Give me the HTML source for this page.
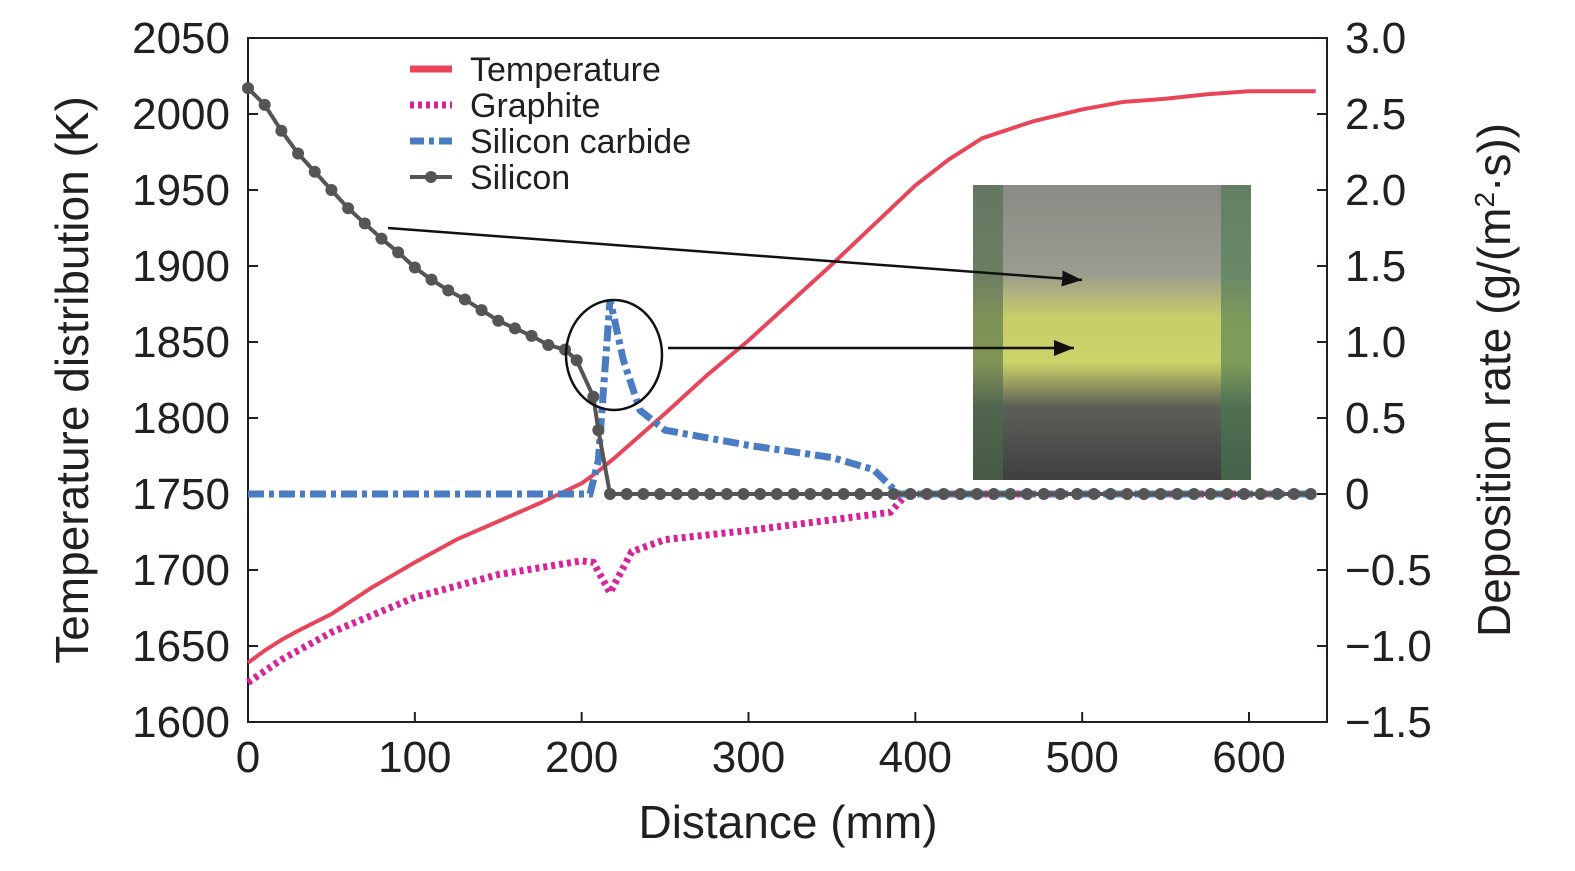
<!DOCTYPE html>
<html><head><meta charset="utf-8"><style>
body{margin:0;background:#fff;}
svg text{font-family:"Liberation Sans",sans-serif;fill:#231f20;}
</style></head><body>
<svg id="c" width="1575" height="866" xmlns="http://www.w3.org/2000/svg">
<defs>
<linearGradient id="pg" x1="0" y1="0" x2="0" y2="1">
<stop offset="0" stop-color="#8a8a86"/><stop offset="0.3" stop-color="#9a9c8e"/><stop offset="0.45" stop-color="#c9cc6a"/><stop offset="0.6" stop-color="#cdd36a"/><stop offset="0.75" stop-color="#5c6158"/><stop offset="1" stop-color="#3e4040"/>
</linearGradient>
<marker id="ah" viewBox="0 0 10 10" refX="10" refY="5" markerWidth="8" markerHeight="8" orient="auto"><path d="M0,1 L10,5 L0,9 z" fill="#111"/></marker>
</defs>
<g id="photo">
<rect x="973" y="185" width="278" height="295" fill="url(#pg)"/>
<rect x="973" y="185" width="30" height="295" fill="#4d6a4a" opacity="0.6"/>
<rect x="1221" y="185" width="30" height="295" fill="#4a7a50" opacity="0.6"/>
</g>
<g id="axes"></g>
<g id="series"></g>
<g id="legend"></g>
</svg>
<script>
const tempX=[0,10,20,30,50,75,100,125,150,175,200,210,220,250,275,300,325,350,375,400,420,440,470,500,525,550,575,600,640];
const tempY=[1639,1647,1654,1660,1671,1689,1705,1720,1732,1744,1757,1765,1774,1803,1828,1851,1876,1901,1927,1953,1970,1984,1995,2003,2008,2010,2013,2015,2015];
const graphX=[0,20,50,100,150,200,207,217,230,250,300,350,385,395,640];
const graphY=[-1.24,-1.09,-0.91,-0.68,-0.53,-0.44,-0.45,-0.65,-0.38,-0.30,-0.24,-0.17,-0.12,0,0];
const sicX=[0,205,210,217,225,235,250,300,350,375,390,640];
const sicY=[0,0,0.22,1.28,0.88,0.55,0.42,0.32,0.24,0.16,0,0];
const siX=[0,10,20,30,40,50,60,70,80,90,100,110,120,130,140,150,160,170,180,190,197,207,210,217];
const siY=[2.67,2.56,2.39,2.24,2.12,2.0,1.88,1.78,1.68,1.59,1.49,1.41,1.34,1.28,1.21,1.14,1.09,1.04,0.98,0.95,0.88,0.64,0.42,0];
const xTicks=[0,100,200,300,400,500,600];
const lTicks=[1600,1650,1700,1750,1800,1850,1900,1950,2000,2050];
const rTicks=[-1.5,-1.0,-0.5,0,0.5,1.0,1.5,2.0,2.5,3.0];
const rLabels=["\u22121.5","\u22121.0","\u22120.5","0","0.5","1.0","1.5","2.0","2.5","3.0"];

const L=248,R=1327,T=38,B=722;
const sx=v=>L+v*(1249-248)/600;
const sl=v=>B-(v-1600)*(B-T)/450;
const sr=v=>B-(v+1.5)*(B-T)/4.5;
const NS="http://www.w3.org/2000/svg";
function mk(tag,attrs,parent){const e=document.createElementNS(NS,tag);for(const k in attrs)e.setAttribute(k,attrs[k]);parent.appendChild(e);return e;}
const ax=document.getElementById('axes'),se=document.getElementById('series'),lg=document.getElementById('legend');

let fr=mk('rect',{x:L,y:T,width:R-L,height:B-T,fill:'none',stroke:'#231f20','stroke-width':2},ax);


xTicks.forEach(v=>{
 let t=mk('line',{x1:sx(v),x2:sx(v),y1:B,y2:B-10,stroke:'#231f20','stroke-width':2},ax);
 
 
 let tx=mk('text',{x:sx(v),y:B+50,'text-anchor':'middle','font-size':44},ax);tx.textContent=v;
 
 
});
lTicks.forEach(v=>{
 let t=mk('line',{x1:L,x2:L+10,y1:sl(v),y2:sl(v),stroke:'#231f20','stroke-width':2},ax);
 
 
 let tx=mk('text',{x:L-18,y:sl(v)+15,'text-anchor':'end','font-size':44},ax);tx.textContent=v;
 
 
});
rTicks.forEach((v,i)=>{
 let t=mk('line',{x1:R-10,x2:R,y1:sr(v),y2:sr(v),stroke:'#231f20','stroke-width':2},ax);
 
 
 let tx=mk('text',{x:R+18,y:sr(v)+15,'text-anchor':'start','font-size':44},ax);tx.textContent=rLabels[i];
 
 
});
let xt=mk('text',{x:788,y:838,'text-anchor':'middle','font-size':46},ax);xt.textContent='Distance (mm)';


let yt=mk('text',{x:88,y:380,'text-anchor':'middle','font-size':46,transform:'rotate(-90 88 380)'},ax);yt.textContent='Temperature distribution (K)';


let rt=mk('text',{x:1510,y:380,'text-anchor':'middle','font-size':46,transform:'rotate(-90 1510 380)'},ax);
rt.innerHTML='Deposition rate (g/(m<tspan dy="-16" font-size="28">2</tspan><tspan dy="16">\u00b7s))</tspan>';



function pts(xs,ys,f){return xs.map((x,i)=>sx(x)+','+f(ys[i])).join(' ');}
let p1=mk('polyline',{points:pts(tempX,tempY,sl),fill:'none',stroke:'#e8455a','stroke-width':4,'stroke-linejoin':'round'},se);


let p2=mk('polyline',{points:pts(graphX,graphY,sr),fill:'none',stroke:'#d6249b','stroke-width':7,'stroke-dasharray':'4 4'},se);


let p3=mk('polyline',{points:pts(sicX,sicY,sr),fill:'none',stroke:'#4a7cc4','stroke-width':7,'stroke-dasharray':'16 5 5 5'},se);


const siAllX=siX.concat([]),siAllY=siY.concat([]);
for(let x=227;x<=640;x+=10){siAllX.push(x);siAllY.push(0);}
let p4=mk('polyline',{points:pts(siAllX,siAllY,sr),fill:'none',stroke:'#555','stroke-width':4},se);


siAllX.forEach((x,i)=>{
 let c=mk('circle',{cx:sx(x),cy:sr(siAllY[i]),r:6,fill:'#555'},se);
 
 
});
let el=mk('ellipse',{cx:614,cy:355,rx:48,ry:55,fill:'none',stroke:'#111','stroke-width':2.5},se);


let a1=mk('line',{x1:388,y1:228,x2:1082,y2:280,stroke:'#111','stroke-width':2.5,'marker-end':'url(#ah)'},se);


let a2=mk('line',{x1:668,y1:348,x2:1074,y2:348,stroke:'#111','stroke-width':2.5,'marker-end':'url(#ah)'},se);



const legNames=['Temperature','Graphite','Silicon carbide','Silicon'];
const legY=[69,105,141,177];
const legStyle=[{stroke:'#e8455a',w:7,d:''},{stroke:'#d6249b',w:7,d:'4 4'},{stroke:'#4a7cc4',w:7,d:'14 5 5 5'},{stroke:'#555',w:4,d:''}];
legNames.forEach((n,i)=>{
 const s=legStyle[i];
 let ln=mk('line',{x1:410,x2:452,y1:legY[i],y2:legY[i],stroke:s.stroke,'stroke-width':s.w,'stroke-dasharray':s.d},lg);
 
 
 if(i==3){let c=mk('circle',{cx:431,cy:legY[i],r:6,fill:'#555'},lg);
  
  }
 let t=mk('text',{x:470,y:legY[i]+12,'font-size':34},lg);t.textContent=n;
 
 
});
</script>
</body></html>
